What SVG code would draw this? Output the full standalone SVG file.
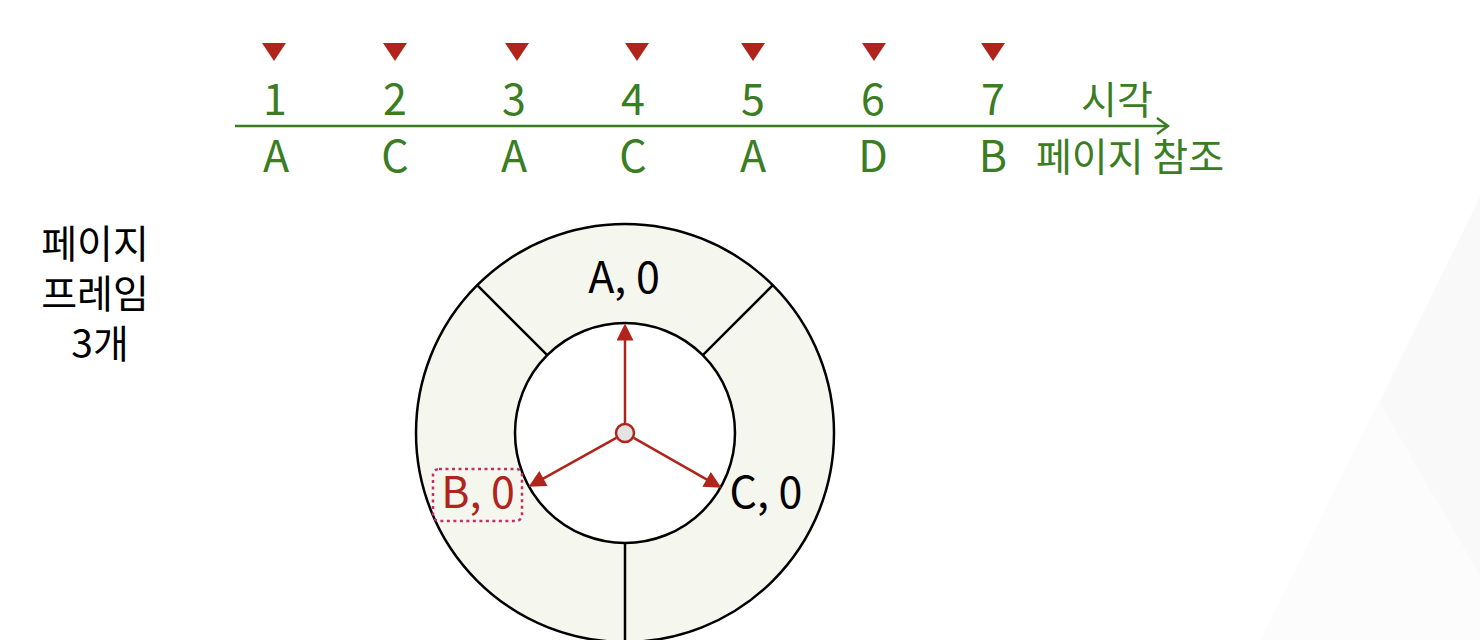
<svg xmlns="http://www.w3.org/2000/svg" width="1480" height="640" viewBox="0 0 1480 640">
  <style>
    .g { fill: #3a7d22; font-family: "Noto Sans CJK KR", "Noto Sans", sans-serif; font-size: 43px; text-anchor: middle; }
    .gk { fill: #3a7d22; font-family: "Noto Sans CJK KR", "Noto Sans", sans-serif; font-size: 39px; text-anchor: middle; }
    .k { fill: #000; font-family: "Noto Sans CJK KR", "Noto Sans", sans-serif; font-size: 39px; text-anchor: middle; }
    .lbl { font-family: "Noto Sans CJK KR", "Noto Sans", sans-serif; font-size: 43px; text-anchor: middle; }
    .tri { fill: #b0241b; }
    .ring { stroke: #000; stroke-width: 2.5; }
    .arr { stroke: #b0241b; stroke-width: 2.5; fill: none; marker-end: url(#ah); }
  </style>
  <defs>
    <marker id="ah" viewBox="0 0 10 10" refX="5" refY="5" markerWidth="18" markerHeight="17" markerUnits="userSpaceOnUse" orient="auto">
      <path d="M0,0 L10,5 L0,10 z" fill="#b0241b"/>
    </marker>
  </defs>
  <rect width="1480" height="640" fill="#ffffff"/>
  <polygon points="1480,197 1261,640 1480,640" fill="#fcfcfc"/>
  <polygon points="1480,197 1380,403 1480,575" fill="#f9f9f9"/>

  <g id="timeline">
    <line x1="235" y1="126" x2="1168" y2="126" stroke="#3a7d22" stroke-width="2.5"/>
    <polyline points="1157,118 1168,126 1157,134" fill="none" stroke="#3a7d22" stroke-width="2.5"/>
    <g id="markers">
      <polygon class="tri" points="262,43 286,43 274,61"/>
      <polygon class="tri" points="383,43 407,43 395,61"/>
      <polygon class="tri" points="505,43 529,43 517,61"/>
      <polygon class="tri" points="625,43 649,43 637,61"/>
      <polygon class="tri" points="741,43 765,43 753,61"/>
      <polygon class="tri" points="862,43 886,43 874,61"/>
      <polygon class="tri" points="981,43 1005,43 993,61"/>
    </g>
    <g id="times">
      <text class="g" x="275" y="115">1</text>
      <text class="g" x="395" y="115">2</text>
      <text class="g" x="514" y="115">3</text>
      <text class="g" x="633" y="115">4</text>
      <text class="g" x="753" y="115">5</text>
      <text class="g" x="873" y="115">6</text>
      <text class="g" x="993" y="115">7</text>
      <text class="gk" x="1117" y="114">시각</text>
    </g>
    <g id="refs">
      <text class="g" x="276" y="172">A</text>
      <text class="g" x="395" y="172">C</text>
      <text class="g" x="514" y="172">A</text>
      <text class="g" x="633" y="172">C</text>
      <text class="g" x="753" y="172">A</text>
      <text class="g" x="873" y="172">D</text>
      <text class="g" x="993" y="172">B</text>
      <text class="gk" x="1130" y="171">페이지 참조</text>
    </g>
  </g>

  <g id="frames-label">
    <text class="k" x="95" y="258">페이지</text>
    <text class="k" x="95" y="308">프레임</text>
    <text class="k" x="100" y="358">3개</text>
  </g>

  <g id="clock">
    <circle class="ring" cx="625" cy="433" r="209" fill="#f5f6ee"/>
    <circle class="ring" cx="625" cy="433" r="110" fill="#ffffff"/>
    <line class="ring" x1="547.2" y1="355.2" x2="477.2" y2="285.2"/>
    <line class="ring" x1="702.8" y1="355.2" x2="772.8" y2="285.2"/>
    <line class="ring" x1="625" y1="543" x2="625" y2="645"/>
  </g>

  <g id="frame-A"><text class="lbl" x="624" y="293" fill="#000">A, 0</text></g>
  <g id="frame-B">
    <rect x="433" y="469" width="89" height="52" rx="6" fill="none" stroke="#c2306a" stroke-width="2.5" stroke-dasharray="3 3.5"/>
    <text class="lbl" x="478" y="508" fill="#b0241b">B, 0</text>
  </g>
  <g id="frame-C"><text class="lbl" x="766" y="508" fill="#000">C, 0</text></g>

  <g id="connectors">
    <line class="arr" x1="625" y1="423" x2="625" y2="332"/>
    <line class="arr" x1="616.3" y1="437.9" x2="536" y2="482.6"/>
    <line class="arr" x1="633.7" y1="437.9" x2="714" y2="483.6"/>
  </g>
  <g id="hub">
    <circle cx="625" cy="433" r="9" fill="#e3e3e3" stroke="#b0241b" stroke-width="2.5"/>
  </g>
</svg>
